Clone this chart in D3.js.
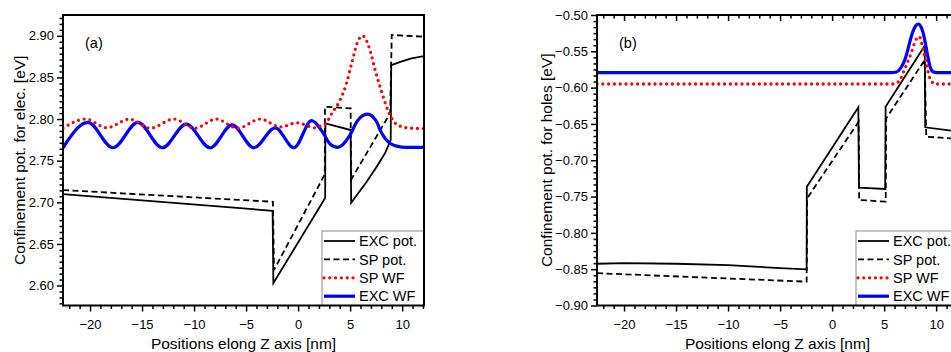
<!DOCTYPE html>
<html><head><meta charset="utf-8">
<script src="https://cdn.jsdelivr.net/npm/d3@7"></script>
<style>
body{margin:0;background:#fff}
svg{display:block}
text{font-family:"Liberation Sans",Arial,Helvetica,sans-serif;fill:#000}
</style>
</head><body>
<svg id="chart" width="951" height="352"></svg>
<script>
// ---------- tick labels / categories ----------
const xTicks = [-20, -15, -10, -5, 0, 5, 10];
const elecYTicks = [2.60, 2.65, 2.70, 2.75, 2.80, 2.85, 2.90];
const holeYTicks = [-0.90, -0.85, -0.80, -0.75, -0.70, -0.65, -0.60, -0.55, -0.50];
const legendLabels = ["EXC pot.", "SP pot.", "SP WF", "EXC WF"];

// ---------- (a) electrons: [z (nm), energy (eV)] ----------
const elecExcPot = [[-22.6,2.7099],[-2.45,2.6898],[-2.38,2.6028],[2.6,2.7053],[2.62,2.7948],[5.05,2.7868],[5.1,2.6994],
  [6.59,2.7247],[7.55,2.7427],[8.35,2.7588],[8.9,2.7748],[8.95,2.8649],[9.9,2.8689],[10.9,2.873],[12.1,2.8757]];
const elecSpPot = [[-22.6,2.7147],[-2.42,2.7006],[-2.32,2.6186],[2.36,2.7287],[2.56,2.734],[2.58,2.8148],[5.05,2.8128],
  [5.08,2.727],[8.85,2.807],[9.0,2.901],[12.1,2.899]];
const elecSpWf = [[-22.6,2.789],[-20.4,2.800],[-18.4,2.7895],[-16.2,2.800],[-14.2,2.789],[-11.95,2.800],[-9.9,2.789],
  [-7.9,2.800],[-5.8,2.789],[-3.65,2.800],[-1.7,2.7905],[-0.1,2.7955],[1.6,2.7895],[2.1,2.7915],[2.6,2.794],[3.3,2.808],
  [4.0,2.822],[4.65,2.843],[5.15,2.867],[5.8,2.895],[6.2,2.900],[6.9,2.883],[7.4,2.859],[8.0,2.834],[8.65,2.810],
  [9.2,2.797],[9.8,2.7915],[10.8,2.789],[12.1,2.7885]];
const elecExcWf = [[-22.6,2.7655],[-20.2,2.796],[-17.8,2.7655],[-15.4,2.796],[-13.05,2.7655],[-10.75,2.794],[-8.45,2.7655],
  [-6.35,2.793],[-4.25,2.7655],[-2.2,2.7895],[-0.4,2.7655],[1.3,2.798],[2.43,2.7828],[3.07,2.770],[3.8,2.766],
  [5.0,2.781],[5.65,2.797],[6.65,2.806],[7.55,2.7968],[7.87,2.787],[8.35,2.777],[8.83,2.771],[9.47,2.7675],[10.4,2.766],[12.1,2.766]];

// ---------- (b) holes: [z (nm), energy (eV)] ----------
const holeExcPot = [[-22.6,-0.8425],[-20,-0.8416],[-15,-0.8425],[-10,-0.8444],[-5,-0.8485],[-2.45,-0.8502],[-2.43,-0.7364],
  [2.52,-0.6271],[2.58,-0.7378],[5.1,-0.7396],[5.14,-0.6263],[8.9,-0.5425],[8.95,-0.6546],[12.1,-0.6605]];
const holeSpPot = [[-22.6,-0.8555],[-2.45,-0.8672],[-2.4,-0.7524],[2.55,-0.6469],[2.6,-0.7547],[5.15,-0.757],[5.2,-0.6423],
  [8.9,-0.562],[9.05,-0.6676],[12.1,-0.6705]];
const holeSpWf = [[-22.6,-0.595],[5.9,-0.595],[6.2,-0.5935],[6.53,-0.5895],[6.84,-0.579],[7.33,-0.562],[7.59,-0.5528],
  [7.8,-0.5436],[7.97,-0.5367],[8.38,-0.5298],[8.61,-0.539],[8.83,-0.5528],[9.09,-0.5689],[9.34,-0.585],[9.57,-0.5918],
  [9.9,-0.595],[12.1,-0.595]];
const holeExcWf = [[-22.6,-0.5794],[5.6,-0.5794],[6.2,-0.5785],[6.55,-0.5738],[6.9,-0.565],[7.17,-0.5535],[7.45,-0.538],
  [7.7,-0.5255],[8.0,-0.5155],[8.29,-0.5124],[8.55,-0.5165],[8.77,-0.5255],[8.95,-0.538],[9.1,-0.5495],[9.3,-0.5645],
  [9.45,-0.5725],[9.7,-0.5782],[10.1,-0.5794],[12.1,-0.5794]];

const xDomain = [-22.6, 12.1];

const svg = d3.select("#chart");

const styles = [
  {stroke:"#000", width:1.8, dash:null, cap:"butt"},
  {stroke:"#000", width:1.8, dash:"6,3.5", cap:"butt"},
  {stroke:"#ff0000", width:3.3, dash:"0,5.8", cap:"round"},
  {stroke:"#0000ff", width:3.2, dash:null, cap:"butt"}
];

function panel(opt) {
  const {left, right, top, bottom} = opt;
  const g = svg.append("g");
  const x = d3.scaleLinear().domain(xDomain).range([left, right]);
  const y = d3.scaleLinear().domain(opt.yDomain).range([bottom, top]);

  const clipId = "clip" + opt.id;
  svg.append("clipPath").attr("id", clipId).append("rect")
    .attr("x", left).attr("y", top).attr("width", right - left).attr("height", bottom - top);

  // minor ticks x
  const xMinor = d3.range(-22, 13, 1).filter(v => v % 5 !== 0 && v >= xDomain[0] && v <= xDomain[1]);
  const xb = g.append("g").attr("transform", `translate(0,${bottom})`)
    .call(d3.axisBottom(x).tickValues(xMinor).tickSizeInner(3.5).tickSizeOuter(0).tickFormat(""));
  xb.select(".domain").remove();
  const xa = g.append("g").attr("transform", `translate(0,${bottom})`)
    .call(d3.axisBottom(x).tickValues(xTicks).tickSizeInner(6).tickSizeOuter(0).tickPadding(8)
      .tickFormat(d3.format("d")));
  xa.select(".domain").remove();
  xa.selectAll("text").style("font-size", "13px");

  if (opt.topTicks) {
    const xt1 = g.append("g").attr("transform", `translate(0,${top})`)
      .call(d3.axisTop(x).tickValues(xMinor).tickSizeInner(-3.5).tickSizeOuter(0).tickFormat(""));
    xt1.select(".domain").remove();
    const xt2 = g.append("g").attr("transform", `translate(0,${top})`)
      .call(d3.axisTop(x).tickValues(xTicks).tickSizeInner(-6).tickSizeOuter(0).tickFormat(""));
    xt2.select(".domain").remove();
  }

  // minor ticks y
  const yMinor = [];
  const base = opt.yTicks[0];
  for (let k = -20; k < 200; k++) {
    const v = base + k * opt.yMinorStep;
    if (v >= opt.yDomain[0] - 1e-9 && v <= opt.yDomain[1] + 1e-9) {
      const isMajor = opt.yTicks.some(t => Math.abs(t - v) < 1e-6);
      if (!isMajor) yMinor.push(v);
    }
  }
  const yb = g.append("g").attr("transform", `translate(${left},0)`)
    .call(d3.axisLeft(y).tickValues(yMinor).tickSizeInner(3.5).tickSizeOuter(0).tickFormat(""));
  yb.select(".domain").remove();
  const ya = g.append("g").attr("transform", `translate(${left},0)`)
    .call(d3.axisLeft(y).tickValues(opt.yTicks).tickSizeInner(6).tickSizeOuter(0).tickPadding(3)
      .tickFormat(d3.format(".2f")));
  ya.select(".domain").remove();
  ya.selectAll("text").style("font-size", "13px");
  g.selectAll(".tick line").attr("stroke", "#000").attr("stroke-width", 1.5);

  // data lines
  const lineLin = d3.line().x(d => x(d[0])).y(d => y(d[1]));
  const lineSmooth = d3.line().x(d => x(d[0])).y(d => y(d[1])).curve(d3.curveMonotoneX);
  const dg = g.append("g").attr("clip-path", `url(#${clipId})`);
  const order = [0, 1, 3, 2];
  order.forEach(i => {
    const s = styles[i];
    const gen = i < 2 ? lineLin : lineSmooth;
    dg.append("path").datum(opt.series[i]).attr("d", gen)
      .attr("fill", "none").attr("stroke", s.stroke).attr("stroke-width", s.width)
      .attr("stroke-dasharray", s.dash).attr("stroke-linecap", s.cap)
      .attr("stroke-linejoin", "miter");
  });

  // legend
  const lw = 102, lx = right - lw, ly = 231;
  const lg = g.append("g");
  lg.append("rect").attr("x", lx).attr("y", ly).attr("width", lw).attr("height", bottom - ly)
    .attr("fill", "#fff").attr("stroke", "#8c8c8c").attr("stroke-width", 1);
  legendLabels.forEach((lab, i) => {
    const yy = ly + 10 + i * 18.4;
    const s = styles[i];
    lg.append("line").attr("x1", lx + 2).attr("x2", lx + 33).attr("y1", yy).attr("y2", yy)
      .attr("stroke", s.stroke).attr("stroke-width", s.width)
      .attr("stroke-dasharray", s.dash).attr("stroke-linecap", s.cap);
    lg.append("text").attr("x", lx + 37).attr("y", yy).attr("dy", "0.36em")
      .style("font-size", "14.5px").text(lab);
  });

  // frame
  g.append("rect").attr("x", left).attr("y", top).attr("width", right - left).attr("height", bottom - top)
    .attr("fill", "none").attr("stroke", "#000").attr("stroke-width", 2);

  // labels
  g.append("text").attr("x", left + 22).attr("y", 43).attr("dy", "0.36em")
    .style("font-size", "14.5px").text(opt.tag);
  g.append("text").attr("x", (left + right) / 2).attr("y", 349).attr("text-anchor", "middle")
    .style("font-size", "15.5px").text("Positions elong Z axis [nm]");
  g.append("text").attr("transform", `translate(${opt.ytx},${(top + bottom) / 2}) rotate(-90)`)
    .attr("text-anchor", "middle").attr("dy", "0.36em")
    .style("font-size", "15.5px").text(opt.ytitle);
}

panel({id:"a", left:63, right:424, top:15, bottom:305.5, yDomain:[2.576, 2.925],
  yTicks: elecYTicks, yMinorStep: 0.05 / 7, topTicks:false, tag:"(a)", ytx:19,
  ytitle:"Confinement pot. for elec. [eV]",
  series:[elecExcPot, elecSpPot, elecSpWf, elecExcWf]});

panel({id:"b", left:597, right:958, top:15, bottom:305.5, yDomain:[-0.90, -0.50],
  yTicks: holeYTicks, yMinorStep: 0.05 / 6, topTicks:true, tag:"(b)", ytx:546,
  ytitle:"Confinement pot. for holes [eV]",
  series:[holeExcPot, holeSpPot, holeSpWf, holeExcWf]});
</script>
</body></html>
